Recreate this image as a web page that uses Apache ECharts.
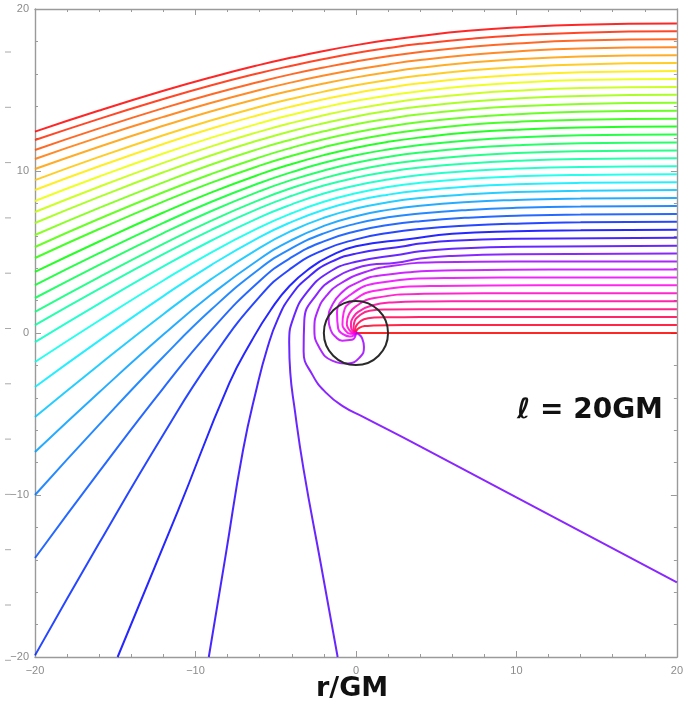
<!DOCTYPE html>
<html><head><meta charset="utf-8">
<script src="https://cdn.jsdelivr.net/npm/echarts/dist/echarts.min.js"></script>
<style>html,body{margin:0;padding:0;background:#fff}#c{width:686px;height:715px}</style>
</head><body><div id="c"></div>
<script>
// axis ticks
const xTicks = [-20, -10, 0, 10, 20];
const yTicks = [-20, -10, 0, 10, 20];
const horizonRadius = 2;

// rays that fall into the hole (k = 0..9)
const plungingRays = [
  [[20,0],[0,0]],
  [[20,0.49],[4,0.49],[2,0.48],[1.1,0.46],[0.54,0.43],[0.18,0.3],[0.02,0.12],[0,0]],
  [[20,0.98],[4,0.98],[2,0.97],[1.14,0.95],[0.5,0.85],[0.1,0.56],[-0.044,0.25],[-0.03,0.06],[0,0]],
  [[20,1.47],[4,1.47],[2,1.45],[0.85,1.38],[0.19,1.05],[-0.11,0.63],[-0.15,0.27],[-0.07,0.06],[0,0]],
  [[20,1.96],[6,1.96],[4.49,1.95],[2.25,1.89],[0.98,1.70],[0.14,1.30],[-0.17,0.97],[-0.31,0.58],[-0.31,0.38],[-0.21,0.13],[0,0]],
  [[20,2.45],[8,2.45],[4.26,2.42],[1.15,2.16],[-0.03,1.63],[-0.44,1.14],[-0.57,0.59],[-0.51,0.34],[-0.30,0.064],[-0.1,-0.02],[0,0]],
  [[20,2.94],[11.4,2.94],[5.11,2.90],[1.31,2.63],[-0.25,1.94],[-0.77,1.25],[-0.84,0.51],[-0.70,0.215],[-0.364,-0.05],[-0.12,-0.06],[0,0]],
  [[20,3.43],[12,3.43],[5.96,3.40],[1.47,3.10],[-0.54,2.22],[-1.18,1.24],[-1.11,0.277],[-0.857,-0.039],[-0.37,-0.216],[-0.08,-0.12],[0,0]],
  [[20,3.92],[12,3.92],[6.81,3.88],[1.61,3.57],[0.126,3.13],[-0.945,2.436],[-1.52,1.64],[-1.70,0.974],[-1.56,0.156],[-1.288,-0.222],[-0.859,-0.472],[-0.249,-0.422],[-0.02,-0.15],[0,0]],
  [[20,4.41],[10,4.41],[5,4.36],[2.30,4.15],[0.53,3.75],[-0.99,3.04],[-1.82,2.32],[-2.38,1.38],[-2.59,0.23],[-2.27,-0.92],[-1.45,-1.72],[-0.50,-1.88],[0.26,-1.48],[0.5,-0.87],[0.38,-0.32],[0.18,-0.085],[0,0]]
];

// near-critical rays (k = 10..13)
const criticalRays = [
  [[20,4.9],[10,4.86],[6,4.76],[4,4.6],[2.5,4.33],[0.89,4.21],[0,4.0],[-1.25,3.43],[-2.42,2.42],[-3.22,0.74],[-3.26,-1.12],[-2.70,-2.60],[-1.82,-3.73],[-0.80,-4.53],[0.45,-5.18],[4,-7.0],[10,-10.15],[20,-15.4]],
  [[20,5.39],[10,5.33],[6,5.2],[4,5.05],[2.8,4.85],[0,4.4],[-1.73,3.72],[-3.07,2.49],[-3.86,1.04],[-4.16,-0.58],[-4.09,-2.48],[-3.85,-4.47],[-3.26,-8.43],[-2.20,-14.2],[-1.14,-20]],
  [[20,5.88],[10,5.82],[6,5.7],[4,5.52],[3.1,5.37],[0,4.9],[-1.59,4.37],[-2.92,3.49],[-4.03,2.33],[-4.87,0.86],[-5.52,-0.93],[-6.17,-3.35],[-7.04,-7.25],[-8.1,-13.6],[-9.17,-20]],
  [[20,6.37],[14,6.34],[10,6.28],[6,6.12],[3.35,5.80],[0,5.35],[-1.71,4.70],[-2.75,4.08],[-4.14,2.90],[-5.31,1.42],[-6.48,-0.45],[-7.89,-3.10],[-11.1,-11],[-14.85,-20]]
];

// deflected rays leaving through the left edge (k = 14..39)
const deflectedRays = [
  [[20,6.86],[14,6.83],[10,6.75],[7,6.63],[4,6.42],[2,6.17],[0,5.78],[-2,5.13],[-4,4.02],[-6,2.24],[-9,-1.61],[-12,-6.26],[-16,-12.97],[-20,-19.9]],
  [[20,7.35],[14,7.32],[10,7.24],[7,7.12],[4,6.90],[2,6.66],[0,6.28],[-2,5.66],[-4,4.68],[-6,3.21],[-9,0.19],[-12,-3.40],[-16,-8.56],[-20,-13.89]],
  [[20,7.84],[14,7.81],[10,7.73],[7,7.60],[4,7.38],[2,7.14],[0,6.75],[-2,6.15],[-4,5.24],[-6,3.97],[-9,1.46],[-12,-1.47],[-16,-5.66],[-20,-10.0]],
  [[20,8.33],[14,8.30],[10,8.21],[7,8.09],[4,7.86],[2,7.60],[0,7.21],[-2,6.61],[-4,5.74],[-6,4.57],[-9,2.39],[-12,-0.10],[-16,-3.66],[-20,-7.35]],
  [[20,8.82],[14,8.78],[10,8.70],[7,8.56],[4,8.33],[2,8.07],[0,7.68],[-2,7.11],[-4,6.31],[-6,5.26],[-9,3.34],[-12,1.16],[-16,-1.96],[-20,-5.19]],
  [[20,9.31],[14,9.27],[10,9.18],[7,9.04],[4,8.80],[2,8.54],[0,8.16],[-2,7.61],[-4,6.86],[-6,5.92],[-9,4.21],[-12,2.28],[-16,-0.47],[-20,-3.33]],
  [[20,9.80],[14,9.76],[10,9.67],[7,9.52],[4,9.27],[2,9.01],[0,8.63],[-2,8.10],[-4,7.39],[-6,6.52],[-9,4.98],[-12,3.24],[-16,0.77],[-20,-1.79]],
  [[20,10.29],[14,10.25],[10,10.15],[7,10.00],[4,9.75],[2,9.48],[0,9.11],[-2,8.61],[-4,7.94],[-6,7.14],[-9,5.71],[-12,4.11],[-16,1.82],[-20,-0.56]],
  [[20,10.78],[14,10.74],[10,10.63],[7,10.47],[4,10.21],[2,9.95],[0,9.59],[-2,9.10],[-4,8.47],[-6,7.71],[-9,6.37],[-12,4.87],[-16,2.73],[-20,0.49]],
  [[20,11.27],[14,11.22],[10,11.11],[7,10.94],[4,10.67],[2,10.41],[0,10.04],[-2,9.56],[-4,8.95],[-6,8.22],[-9,6.94],[-12,5.50],[-16,3.45],[-20,1.30]],
  [[20,11.76],[14,11.71],[10,11.59],[7,11.42],[4,11.14],[2,10.87],[0,10.51],[-2,10.03],[-4,9.45],[-6,8.75],[-9,7.53],[-12,6.17],[-16,4.21],[-20,2.16]],
  [[20,12.25],[14,12.20],[10,12.07],[7,11.89],[4,11.61],[2,11.33],[0,10.97],[-2,10.51],[-4,9.93],[-6,9.26],[-9,8.10],[-12,6.80],[-16,4.93],[-20,2.96]],
  [[20,12.74],[14,12.68],[10,12.55],[7,12.37],[4,12.07],[2,11.80],[0,11.44],[-2,10.98],[-4,10.43],[-6,9.79],[-9,8.68],[-12,7.44],[-16,5.65],[-20,3.77]],
  [[20,13.23],[14,13.17],[10,13.03],[7,12.85],[4,12.55],[2,12.27],[0,11.92],[-2,11.47],[-4,10.94],[-6,10.33],[-9,9.28],[-12,8.11],[-16,6.42],[-20,4.63]],
  [[20,13.72],[14,13.66],[10,13.51],[7,13.32],[4,13.02],[2,12.74],[0,12.39],[-2,11.96],[-4,11.44],[-6,10.84],[-9,9.82],[-12,8.69],[-16,7.05],[-20,5.31]],
  [[20,14.21],[14,14.14],[10,14.00],[7,13.80],[4,13.50],[2,13.22],[0,12.88],[-2,12.45],[-4,11.95],[-6,11.38],[-9,10.40],[-12,9.30],[-16,7.72],[-20,6.05]],
  [[20,14.70],[14,14.63],[10,14.48],[7,14.28],[4,13.98],[2,13.71],[0,13.37],[-2,12.95],[-4,12.47],[-6,11.91],[-9,10.97],[-12,9.92],[-16,8.40],[-20,6.79]],
  [[20,15.19],[14,15.12],[10,14.96],[7,14.76],[4,14.46],[2,14.18],[0,13.85],[-2,13.44],[-4,12.97],[-6,12.43],[-9,11.52],[-12,10.50],[-16,9.03],[-20,7.47]],
  [[20,15.68],[14,15.61],[10,15.45],[7,15.24],[4,14.93],[2,14.66],[0,14.33],[-2,13.93],[-4,13.47],[-6,12.95],[-9,12.06],[-12,11.08],[-16,9.66],[-20,8.15]],
  [[20,16.17],[14,16.09],[10,15.93],[7,15.72],[4,15.41],[2,15.14],[0,14.82],[-2,14.43],[-4,13.98],[-6,13.47],[-9,12.62],[-12,11.67],[-16,10.29],[-20,8.83]],
  [[20,16.66],[14,16.58],[10,16.41],[7,16.20],[4,15.89],[2,15.62],[0,15.29],[-2,14.90],[-4,14.46],[-6,13.97],[-9,13.13],[-12,12.21],[-16,10.87],[-20,9.44]],
  [[20,17.15],[14,17.07],[10,16.90],[7,16.68],[4,16.37],[2,16.10],[0,15.78],[-2,15.40],[-4,14.97],[-6,14.49],[-9,13.69],[-12,12.79],[-16,11.50],[-20,10.12]],
  [[20,17.64],[14,17.56],[10,17.38],[7,17.16],[4,16.85],[2,16.58],[0,16.26],[-2,15.89],[-4,15.47],[-6,15.00],[-9,14.21],[-12,13.34],[-16,12.09],[-20,10.74]],
  [[20,18.13],[14,18.05],[10,17.87],[7,17.65],[4,17.34],[2,17.08],[0,16.76],[-2,16.39],[-4,15.98],[-6,15.51],[-9,14.74],[-12,13.88],[-16,12.63],[-20,11.30]],
  [[20,18.62],[14,18.54],[10,18.37],[7,18.15],[4,17.85],[2,17.59],[0,17.28],[-2,16.91],[-4,16.50],[-6,16.05],[-9,15.29],[-12,14.44],[-16,13.22],[-20,11.91]],
  [[20,19.11],[14,19.03],[10,18.86],[7,18.65],[4,18.34],[2,18.08],[0,17.77],[-2,17.41],[-4,17.00],[-6,16.55],[-9,15.79],[-12,14.95],[-16,13.73],[-20,12.43]]
];

const allRays = plungingRays.concat(criticalRays, deflectedRays);
const nRays = allRays.length; // 40

function rayColor(k) {
  const h = ((1 - k / (nRays - 1)) * 360) % 360;
  return 'hsl(' + h.toFixed(1) + ',100%,50%)';
}
const minus = v => (v < 0 ? '\u2212' + (-v) : String(v));

const chart = echarts.init(document.getElementById('c'), null, {renderer: 'canvas'});

const axisColor = '#9a9a9a';
function makeAxis(pos, showLabel, isX) {
  return {
    type: 'value', position: pos, min: -20, max: 20, interval: 10,
    axisLine: {show: true, onZero: false, lineStyle: {color: axisColor, width: 1.4}},
    axisTick: {show: true, inside: true, length: 6, lineStyle: {color: axisColor, width: 1}},
    minorTick: {show: true, splitNumber: 5, length: 3, lineStyle: {color: axisColor, width: 1}},
    splitLine: {show: false},
    axisLabel: {show: showLabel, color: '#8c8c8c', fontSize: 11, fontFamily: 'Liberation Sans, Arial, sans-serif',
      margin: isX ? 8 : 6, formatter: minus}
  };
}

const series = allRays.map((pts, k) => ({
  type: 'line', data: pts, xAxisIndex: 0, yAxisIndex: 0,
  showSymbol: false, smooth: 0.5, clip: true, z: 2,
  lineStyle: {color: rayColor(k), width: 2, opacity: 0.85}, silent: true
}));

series.push({
  type: 'custom', xAxisIndex: 0, yAxisIndex: 0, z: 5, silent: true,
  data: [[0, 0, horizonRadius]],
  renderItem: function (params, api) {
    const c = api.coord([api.value(0), api.value(1)]);
    const s = api.size([api.value(2), api.value(2)]);
    return {type: 'circle', shape: {cx: c[0], cy: c[1], r: s[0]},
      style: {fill: 'none', stroke: '#2a2a2a', lineWidth: 2}};
  }
});

const strayDashes = [];
for (let i = 0; i < 12; i++) {
  strayDashes.push({type: 'line', shape: {x1: 5, y1: 52 + 55.3 * i, x2: 11, y2: 52 + 55.3 * i},
    style: {stroke: '#aaa', lineWidth: 1}});
}

chart.setOption({
  animation: false,
  backgroundColor: '#fff',
  grid: {left: 35, right: 4, top: 9, bottom: 58, containLabel: false},
  xAxis: [makeAxis('bottom', true, true), makeAxis('top', false, true)],
  yAxis: [makeAxis('left', true, false), makeAxis('right', false, false)],
  series: series,
  graphic: strayDashes.concat([
    {type: 'text', left: 517, top: 397, z: 10,
      style: {text: '\u2113 = 20GM', font: 'bold 28px "DejaVu Sans"', fill: '#111'}},
    {type: 'text', left: 316, top: 675, z: 10,
      style: {text: 'r/GM', font: 'bold 27px "DejaVu Sans"', fill: '#111'}}
  ])
});
</script>
</body></html>
